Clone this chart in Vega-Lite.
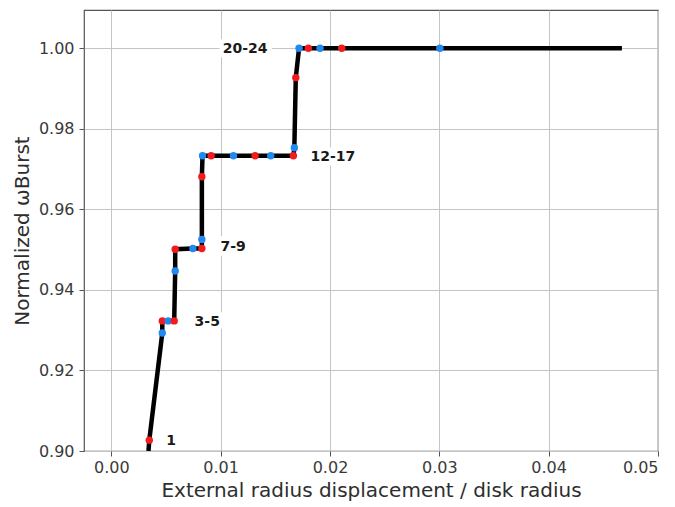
{
  "$schema": "https://vega.github.io/schema/vega-lite/v6.json",
  "autosize": "none",
  "width": 574,
  "height": 441,
  "padding": {"left": 84, "top": 10, "right": 17, "bottom": 56},
  "background": "white",
  "config": {
    "font": "DejaVu Sans",
    "view": {"stroke": "#555555", "strokeWidth": 1.2},
    "axis": {
      "labelFont": "DejaVu Sans",
      "titleFont": "DejaVu Sans",
      "labelFontSize": 16,
      "titleFontSize": 20,
      "titleFontWeight": "normal",
      "labelColor": "#3a3a3a",
      "titleColor": "#2e2e2e",
      "gridColor": "#c4c4c4",
      "gridWidth": 1,
      "tickColor": "#555555",
      "tickSize": 5,
      "domain": false
    }
  },
  "datasets": {
    "pts": [
      {"x": 0.0034, "y": 0.9, "i": 0, "c": "none"},
      {"x": 0.00347, "y": 0.9027, "i": 1, "c": "odd"},
      {"x": 0.00466, "y": 0.9293, "i": 2, "c": "even"},
      {"x": 0.00466, "y": 0.9323, "i": 3, "c": "odd"},
      {"x": 0.0052, "y": 0.9323, "i": 4, "c": "even"},
      {"x": 0.00575, "y": 0.9323, "i": 5, "c": "odd"},
      {"x": 0.00584, "y": 0.9447, "i": 6, "c": "even"},
      {"x": 0.00584, "y": 0.9501, "i": 7, "c": "odd"},
      {"x": 0.00746, "y": 0.9503, "i": 8, "c": "even"},
      {"x": 0.00828, "y": 0.9503, "i": 9, "c": "odd"},
      {"x": 0.00828, "y": 0.9525, "i": 10, "c": "even"},
      {"x": 0.00828, "y": 0.9681, "i": 11, "c": "odd"},
      {"x": 0.00834, "y": 0.9733, "i": 12, "c": "even"},
      {"x": 0.00913, "y": 0.9733, "i": 13, "c": "odd"},
      {"x": 0.01117, "y": 0.9733, "i": 14, "c": "even"},
      {"x": 0.01315, "y": 0.9733, "i": 15, "c": "odd"},
      {"x": 0.01458, "y": 0.9733, "i": 16, "c": "even"},
      {"x": 0.01665, "y": 0.9733, "i": 17, "c": "odd"},
      {"x": 0.01674, "y": 0.9753, "i": 18, "c": "even"},
      {"x": 0.01687, "y": 0.9927, "i": 19, "c": "odd"},
      {"x": 0.01717, "y": 1.0, "i": 20, "c": "even"},
      {"x": 0.01802, "y": 1.0, "i": 21, "c": "odd"},
      {"x": 0.01909, "y": 1.0, "i": 22, "c": "even"},
      {"x": 0.02107, "y": 1.0, "i": 23, "c": "odd"},
      {"x": 0.03005, "y": 1.0, "i": 24, "c": "even"},
      {"x": 0.0467, "y": 1.0, "i": 25, "c": "none"}
    ],
    "labels": [
      {"x": 0.00548, "y": 0.9025, "t": "1"},
      {"x": 0.00877, "y": 0.932, "t": "3-5"},
      {"x": 0.01114, "y": 0.9506, "t": "7-9"},
      {"x": 0.02027, "y": 0.973, "t": "12-17"},
      {"x": 0.01224, "y": 0.9998, "t": "20-24"}
    ]
  },
  "layer": [
    {
      "data": {"name": "pts"},
      "mark": {"type": "line", "color": "black", "strokeWidth": 4.5, "clip": true},
      "encoding": {
        "x": {
          "field": "x", "type": "quantitative",
          "scale": {"domain": [-0.0025, 0.05], "nice": false, "zero": false},
          "axis": {"values": [0, 0.01, 0.02, 0.03, 0.04, 0.05], "format": ".2f", "title": "External radius displacement / disk radius", "titlePadding": 5, "labelPadding": 3}
        },
        "y": {
          "field": "y", "type": "quantitative",
          "scale": {"domain": [0.9, 1.0095], "nice": false, "zero": false},
          "axis": {"values": [0.9, 0.92, 0.94, 0.96, 0.98, 1.0], "format": ".2f", "title": "Normalized ωBurst", "titlePadding": 6, "labelPadding": 5}
        },
        "order": {"field": "i", "type": "quantitative"}
      }
    },
    {
      "data": {"name": "pts"},
      "transform": [{"filter": "datum.c !== 'none'"}],
      "mark": {"type": "circle", "size": 55, "opacity": 1},
      "encoding": {
        "x": {"field": "x", "type": "quantitative"},
        "y": {"field": "y", "type": "quantitative"},
        "color": {
          "field": "c", "type": "nominal",
          "scale": {"domain": ["odd", "even"], "range": ["#f21c1c", "#2189f0"]},
          "legend": null
        }
      }
    },
    {
      "data": {"name": "labels"},
      "mark": {"type": "text", "font": "DejaVu Sans", "fontSize": 14, "fontWeight": "bold", "stroke": "white", "strokeWidth": 10, "strokeJoin": "round", "align": "center", "baseline": "middle"},
      "encoding": {
        "x": {"field": "x", "type": "quantitative"},
        "y": {"field": "y", "type": "quantitative"},
        "text": {"field": "t", "type": "nominal"}
      }
    },
    {
      "data": {"name": "labels"},
      "mark": {"type": "text", "font": "DejaVu Sans", "fontSize": 14, "fontWeight": "bold", "color": "#1a1a1a", "align": "center", "baseline": "middle"},
      "encoding": {
        "x": {"field": "x", "type": "quantitative"},
        "y": {"field": "y", "type": "quantitative"},
        "text": {"field": "t", "type": "nominal"}
      }
    }
  ]
}
